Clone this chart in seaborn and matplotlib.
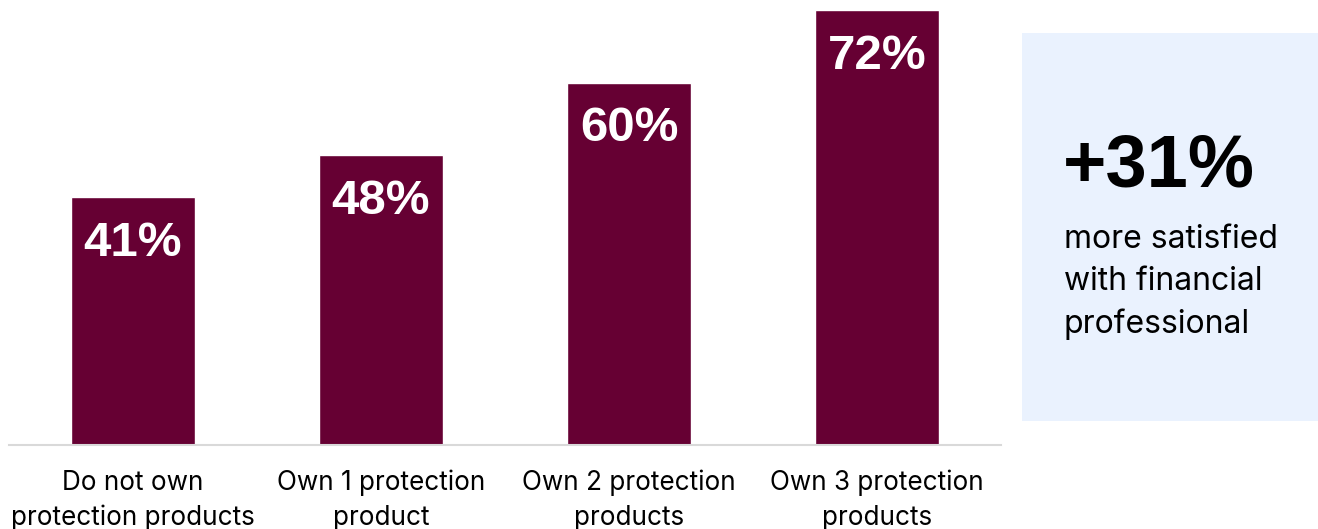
import matplotlib
matplotlib.use("Agg")
import matplotlib.pyplot as plt
import seaborn as sns
import pandas as pd
from matplotlib.patches import Rectangle

categories = ["Do not own\nprotection products", "Own 1 protection\nproduct",
              "Own 2 protection\nproducts", "Own 3 protection\nproducts"]
values = [41, 48, 60, 72]
value_labels = ["41%", "48%", "60%", "72%"]
callout_big = "+31%"
callout_text = "more satisfied\nwith financial\nprofessional"

sns.set_theme(style="white")
plt.rcParams['font.family'] = ['Inter', 'DejaVu Sans']

W, H = 1318, 529
fig = plt.figure(figsize=(W / 100, H / 100), dpi=100)
ax = fig.add_axes([9 / W, (H - 445) / H, 992 / W, 445 / H])

df = pd.DataFrame({"cat": categories, "val": values})
sns.barplot(data=df, x="cat", y="val", color="#660033", saturation=1, width=0.5, ax=ax)

ax.set_xlim(-0.5, 3.5)
ax.set_ylim(0, 445 / 6.04)
for s in ["top", "right", "left"]:
    ax.spines[s].set_visible(False)
ax.spines["bottom"].set_color("#d9d9d9")
ax.spines["bottom"].set_linewidth(1.5)
ax.set_yticks([])
ax.set_xlabel("")
ax.set_ylabel("")
ax.tick_params(axis="x", length=0, pad=18, labelsize=18.8, colors="black")
for t in ax.get_xticklabels():
    t.set_linespacing(1.42)

for i, (v, lab) in enumerate(zip(values, value_labels)):
    ax.annotate(lab, (i, v), xytext=(0, -46), textcoords="offset pixels",
                ha="center", va="center", color="white", fontsize=35.5,
                fontweight="bold", family=["Liberation Sans", "DejaVu Sans"])

# callout box
fig.patches.append(Rectangle((1022 / W, (H - 421) / H), 296 / W, 388 / H,
                             transform=fig.transFigure, facecolor="#EAF2FE", edgecolor="none", zorder=0))
fig.text(1063 / W, (H - 167) / H, callout_big, fontsize=53.5, fontweight="bold", color="black",
         ha="left", va="center", family=["Liberation Sans", "DejaVu Sans"])
fig.text(1064 / W, (H - 282) / H, callout_text, fontsize=23, color="black",
         ha="left", va="center", linespacing=1.45)

fig.savefig("out.png", dpi=100)
